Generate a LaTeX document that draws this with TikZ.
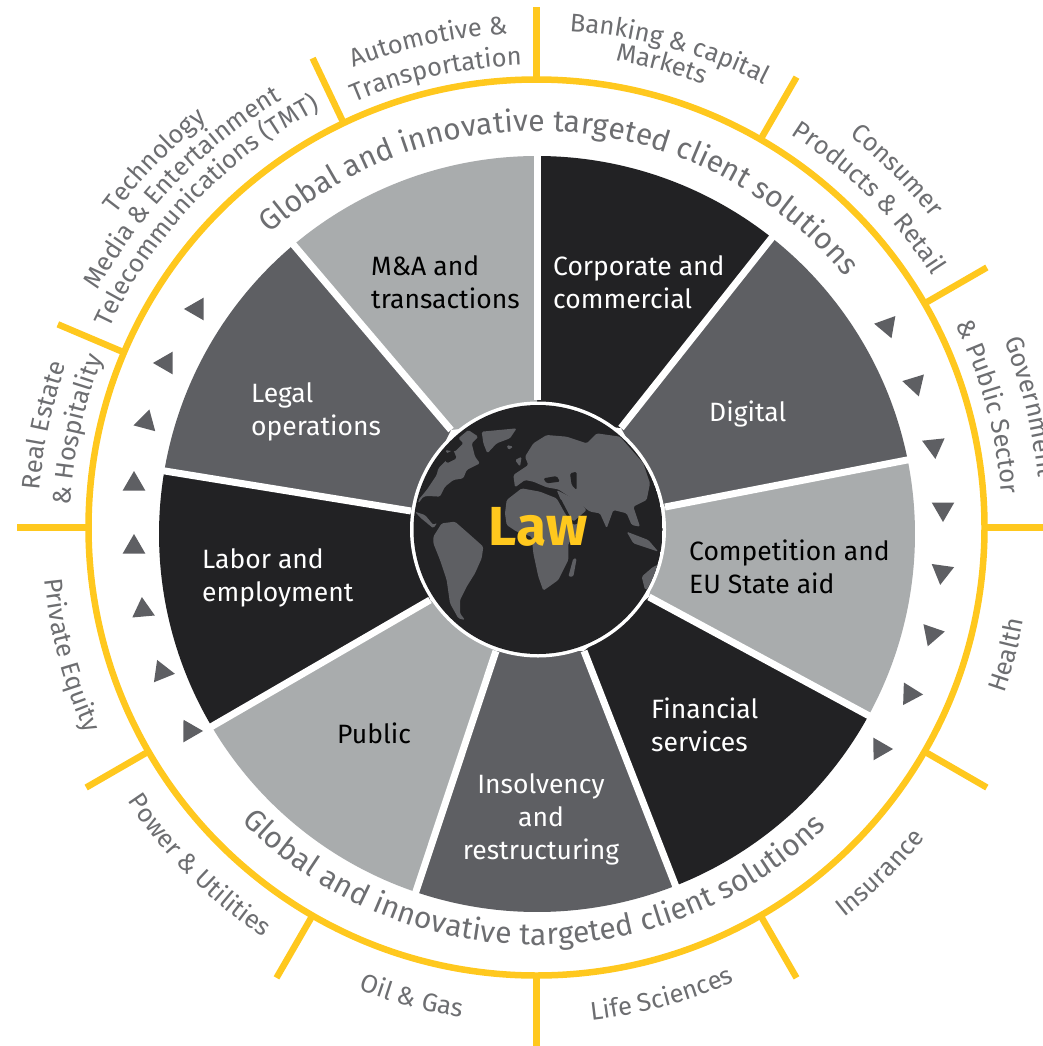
\documentclass[tikz,border=0pt]{standalone}
\usepackage{fontspec}
\setmainfont{Fira Sans}
\usetikzlibrary{calc}
\definecolor{eyyellow}{HTML}{FFC81E}
\definecolor{eyblack}{HTML}{222224}
\definecolor{eydark}{HTML}{5E5F63}
\definecolor{eylight}{HTML}{A9ACAD}
\definecolor{labgray}{HTML}{6D6E71}
\newcommand\labfont{\fontsize{25.5}{25.5}\selectfont}
\newcommand\bandfont{\fontsize{30}{30}\selectfont}
\newdimen\arcS \newdimen\arcTot \newdimen\arcTrack
\newsavebox\arcbox
\newcommand\arcCurFont{}
\newcommand\arcGetBox[1]{\setbox\arcbox\hbox{\pgfinterruptpicture\arcCurFont #1\endpgfinterruptpicture}}
\newcommand\arcMeasOne[1]{\ifx#1~\arcGetBox{\ }\else\arcGetBox{#1}\fi
  \global\advance\arcS by\wd\arcbox \global\advance\arcS by\arcTrack}
\newcommand\arcMeasure[1]{\ifx#1\relax\else\arcMeasOne{#1}\expandafter\arcMeasure\fi}
\newcommand\arcPutOne[1]{\ifx#1~\arcGetBox{\ }\else\arcGetBox{#1}%
  \pgfmathsetmacro\arcMid{(\the\arcS+0.5*\the\wd\arcbox-0.5*\the\arcTot)/\arcR*57.29578}%
  \pgfmathsetmacro\arcAng{\arcA-\arcD*\arcMid}%
  \pgfmathsetmacro\arcRot{\arcAng-90*\arcD}%
  \node[rotate=\arcRot,anchor=base,inner sep=0pt,text=labgray] at ($(tc)+(\arcAng:\arcR)$) {\arcCurFont #1};%
  \arcGetBox{#1}\fi
  \global\advance\arcS by\wd\arcbox \global\advance\arcS by\arcTrack}
\newcommand\arcPut[1]{\ifx#1\relax\else\arcPutOne{#1}\expandafter\arcPut\fi}
% radius, centre angle, direction (1 clockwise at top, -1 counter-clockwise at bottom), font, tracking, text
\newcommand\arctxt[6]{\def\arcR{#1}\def\arcA{#2}\def\arcD{#3}\def\arcCurFont{#4}\arcTrack=#5pt
  \global\arcS=0pt \arcMeasure#6\relax \global\arcTot=\arcS \global\arcS=0pt \arcPut#6\relax}
\newcommand\toplab[3]{\arctxt{#1}{#2}{1}{\labfont}{0}{#3}}
\newcommand\botlab[3]{\arctxt{#1}{#2}{-1}{\labfont}{0}{#3}}
\newcommand\triang[3]{\fill[eydark,shift={(#1,-#2)},rotate=#3] (13,0) -- (-6.5,11.3) -- (-6.5,-11.3) -- cycle;}
\tikzset{
  tick/.style={eyyellow,line width=6.5pt},
  sep/.style={white,line width=7pt},
  wlabel/.style={font=\fontsize{26.5}{33}\selectfont,align=left,anchor=west,inner sep=0pt},
}
\begin{document}
\begin{tikzpicture}[x=1pt,y=1pt]
\useasboundingbox (0,-1046) rectangle (1043,0);
\fill[white] (0,-1046) rectangle (1043,0);
\coordinate (rc) at (536.5,-527.5);
\coordinate (wc) at (537,-534);
\coordinate (gc) at (538,-529.5);
\coordinate (tc) at (537,-530);
% yellow ring and ticks
\foreach \a in {-150,-120,-90,-60,-30,0,30,60,90,115.5,157,180}
  \draw[tick] ($(rc)+(\a:447)$) -- ($(rc)+(\a:520)$);
\draw[eyyellow,line width=6.5pt] (rc) circle[radius=448];
% wedges
\foreach \ia/\ib/\a/\b/\ja/\jb/\col in {
  537/420/90/51.6/621/428/eyblack,
  621/428/51.6/11.3/665/507/eydark,
  665/507/11.3/-28.7/649/597/eylight,
  649/597/-28.7/-68.5/584/651/eyblack,
  584/651/-68.5/-108.7/496/651/eydark,
  496/651/-108.7/-149.4/430/600/eylight,
  430/600/-149.4/-189.6/411/511/eyblack,
  411/511/170.4/130.1/451/430/eydark,
  451/430/130.1/90/537/420/eylight}{
  \fill[\col] (\ia,-\ib) -- ($(wc)+(\a:378)$) arc[start angle=\a,end angle=\b,radius=378] -- (\ja,-\jb) -- cycle;
}
\foreach \ia/\ib/\a in {537/400/90,621/428/51.6,665/507/11.3,649/597/-28.7,584/651/-68.5,496/651/-108.7,430/600/-149.4,411/511/170.4,451/430/130.1}
  \draw[sep] (\ia,-\ib) -- ($(wc)+(\a:386)$);
% globe
\fill[white] (gc) circle[radius=128];
\begin{scope}
\clip (gc) circle[radius=124.5];
\fill[eyblack] (gc) circle[radius=125];
\begin{scope}[shift={(400,-400)},xscale=1/3,yscale=-1/3,rounded corners=1.5pt]
% Greenland
\fill[eydark] (245,95) -- (350,85) -- (330,115) -- (290,130) -- (262,160) -- (250,130) -- cycle;
% North America
\fill[eydark] (55,300) -- (80,270) -- (110,225) -- (115,205) -- (150,170) -- (135,150) -- (165,155) -- (190,130) -- (175,115) -- (205,90) -- (235,110) -- (215,130) -- (225,170) -- (240,190) -- (200,210) -- (190,235) -- (160,240) -- (135,260) -- (120,290) -- (85,288) -- (70,290) -- (55,310) -- cycle;
\fill[eydark] (45,335) -- (75,345) -- (100,375) -- (112,368) -- (100,385) -- (60,352) -- cycle;
% South America
\fill[eydark] (100,410) -- (125,370) -- (165,365) -- (205,400) -- (250,440) -- (245,475) -- (225,520) -- (200,560) -- (180,600) -- (180,640) -- (195,660) -- (175,655) -- (150,610) -- (140,540) -- (120,480) -- (100,430) -- cycle;
% Africa
\fill[eydark] (315,340) -- (320,300) -- (365,265) -- (420,275) -- (470,295) -- (495,340) -- (520,375) -- (555,365) -- (545,390) -- (505,430) -- (505,480) -- (475,540) -- (430,572) -- (415,530) -- (400,460) -- (395,410) -- (350,395) -- (320,375) -- cycle;
\fill[eydark] (520,475) -- (530,475) -- (520,530) -- (505,530) -- cycle;
% Eurasia
\fill[eydark] (340,225) -- (385,195) -- (375,170) -- (400,130) -- (440,105) -- (500,110) -- (560,130) -- (590,100) -- (660,110) -- (730,190) -- (750,250) -- (740,300) -- (700,320) -- (720,380) -- (695,375) -- (680,340) -- (640,330) -- (620,385) -- (600,340) -- (570,335) -- (530,305) -- (475,268) -- (440,262) -- (400,245) -- (375,240) -- (345,262) -- cycle;
\fill[eydark] (470,270) -- (530,300) -- (560,330) -- (520,365) -- (495,330) -- cycle;
% islands
\fill[eydark] (680,395) -- (745,420) -- (775,455) -- (700,430) -- cycle;
\fill[eydark] (725,530) -- (760,500) -- (785,490) -- (760,560) -- (735,570) -- cycle;
\fill[eydark] (345,180) -- (365,170) -- (360,200) -- cycle;
\fill[eydark] (320,135) -- (340,140) -- (325,150) -- cycle;
% inner seas
\fill[eyblack] (430,235) -- (470,228) -- (480,245) -- (440,250) -- cycle;
\fill[eyblack] (510,220) -- (530,215) -- (530,270) -- (515,255) -- cycle;
\fill[eyblack] (130,165) -- (160,150) -- (170,175) -- (140,190) -- cycle;
\fill[eyblack] (476,296) -- (482,296) -- (522,372) -- (516,374) -- cycle;
\end{scope}
\end{scope}
\node[anchor=base,inner sep=0pt,text=eyyellow,font=\fontsize{55}{55}\selectfont\bfseries] (law) at (538,-545) {Law};
% wedge labels
\node[wlabel,text=white] (corp) at (553,-282) {Corporate and\\commercial};
\node[wlabel,text=white] (dig) at (709,-414) {Digital};
\node[wlabel,text=black] (comp) at (689,-567) {Competition and\\EU State aid};
\node[wlabel,text=white] (fin) at (651,-725) {Financial\\services};
\node[wlabel,text=white,align=center,anchor=center] (ins) at (541,-819) {Insolvency\\and\\restructuring};
\node[wlabel,text=black] (pub) at (337,-733) {Public};
\node[wlabel,text=white] (lab) at (202,-578) {Labor and\\employment};
\node[wlabel,text=white] (leg) at (251,-412) {Legal\\operations};
\node[wlabel,text=black] (ma) at (371,-282) {M\&A and\\transactions};
% triangles
\triang{197}{309}{60}\triang{166}{363}{60}\triang{146}{422}{75}\triang{134}{484}{90}
\triang{134}{547}{90}\triang{143}{610}{95}\triang{162}{672}{112}\triang{190}{731}{120}
\triang{887}{326}{50}\triang{915}{384}{-73}\triang{934}{446}{-84}\triang{943}{509}{-90}
\triang{942}{572}{-98}\triang{932}{634}{-109}\triang{910}{694}{-122}\triang{880}{749}{-120}
% band text
\arctxt{399}{85.7}{1}{\bandfont}{0.1}{Global~and~innovative~targeted~client~solutions}
\arctxt{415}{-90.5}{-1}{\bandfont}{0.2}{Global~and~innovative~targeted~client~solutions}
% sector labels
\toplab{497}{102.5}{Automotive~\&}
\toplab{465}{102.5}{Transportation}
\toplab{500}{74.6}{Banking~\&~capital}
\toplab{476}{75}{Markets}
\toplab{503}{45}{Consumer}
\toplab{470}{45}{Products~\&~Retail}
\toplab{504}{14}{Government}
\toplab{466}{15.3}{\&~Public~Sector}
\toplab{527}{136}{Technology}
\toplab{500}{136}{Media~\&~Entertainment}
\toplab{473}{136}{Telecommunications~(TMT)}
\toplab{499}{168}{Real~Estate}
\toplab{467}{167.7}{\&~Hospitality}
\botlab{495}{-14.9}{Health}
\botlab{495}{-45}{Insurance}
\botlab{493}{-75}{Life~Sciences}
\botlab{493}{-105}{Oil~\&~Gas}
\botlab{491}{-135.2}{Power~\&~Utilities}
\botlab{495}{-165}{Private~Equity}
\end{tikzpicture}
\end{document}
